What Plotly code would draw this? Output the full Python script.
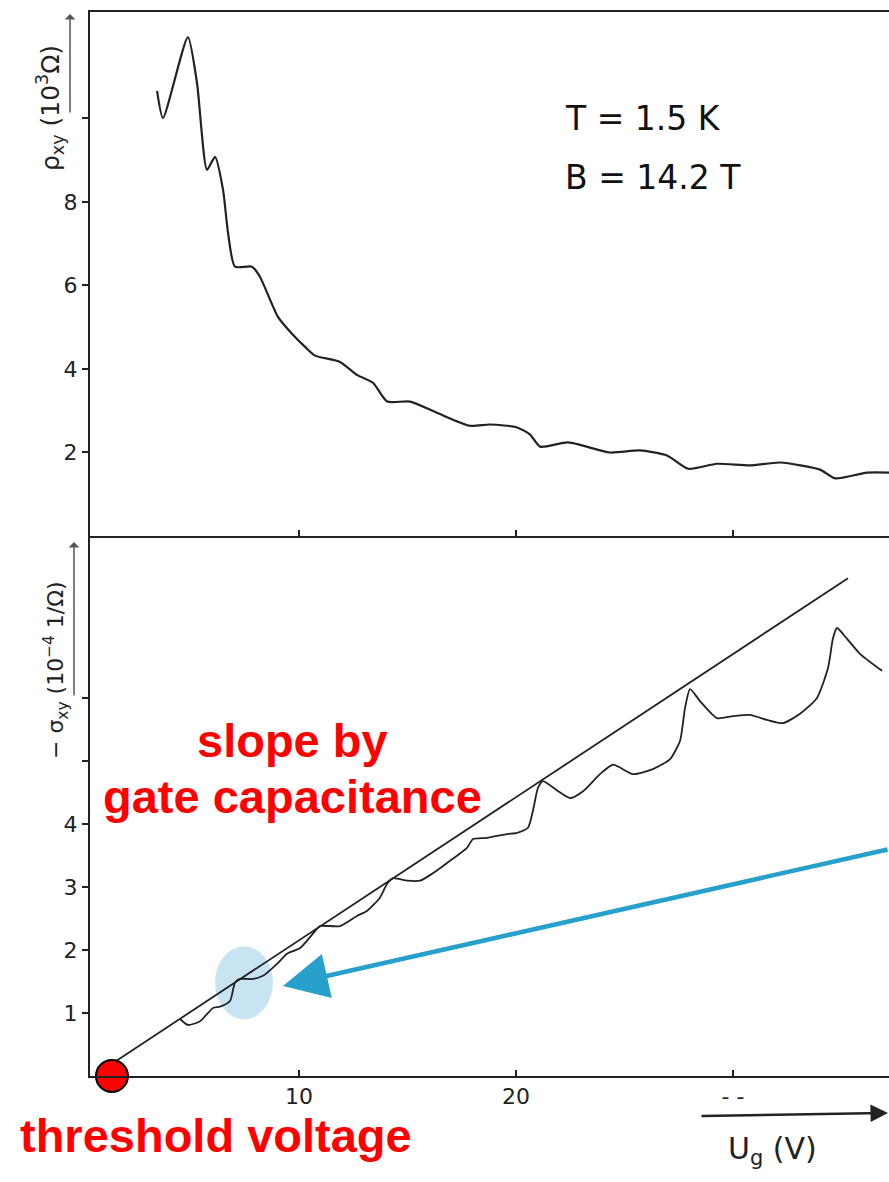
import plotly.graph_objects as go

# ---------------- data ----------------
# Top panel: Hall resistivity rho_xy (10^3 Ohm) vs gate voltage U_g (V)
rho_ug = [3.46, 3.73, 4.88, 5.30, 5.76, 6.13, 6.50, 6.73, 7.05, 7.83, 8.20, 9.03, 9.72,
          10.28, 10.74, 11.89, 12.67, 13.41, 14.06, 15.12, 16.36, 17.88, 18.80, 20.05,
          20.65, 21.11, 22.40, 24.33, 25.71, 26.96, 27.93, 29.26, 30.78, 32.17, 34.01,
          34.70, 36.17, 37.19]
rho_xy = [10.66, 10.01, 11.95, 10.85, 8.77, 9.08, 8.29, 7.26, 6.45, 6.45, 6.21, 5.25, 4.82,
          4.53, 4.32, 4.17, 3.86, 3.67, 3.22, 3.22, 2.95, 2.64, 2.67, 2.60,
          2.43, 2.14, 2.24, 2.00, 2.05, 1.93, 1.61, 1.73, 1.69, 1.76, 1.59,
          1.38, 1.52, 1.52]

# Bottom panel: -sigma_xy (10^-4 1/Ohm) vs U_g (V)
sig_ug = [4.52, 4.88, 5.44, 6.04, 6.36, 6.82, 7.05, 7.28, 7.88, 8.34, 8.99, 9.45, 10.05,
          10.74, 10.97, 11.89, 12.67, 13.13, 13.73, 14.06, 14.33, 14.98, 15.58, 16.18,
          16.82, 17.74, 18.02, 18.66, 19.59, 20.05, 20.55, 20.78, 21.01, 21.24, 21.94,
          22.49, 23.09, 23.87, 24.47, 25.39, 26.31, 27.10, 27.56, 27.79, 28.02, 28.48,
          29.26, 30.00, 30.78, 31.57, 32.30, 33.09, 33.87, 34.38, 34.61, 34.79, 35.25,
          35.85, 36.87]
sig_xy = [0.905, 0.81, 0.87, 1.08, 1.10, 1.19, 1.48, 1.54, 1.54, 1.59, 1.78, 1.94, 2.03,
          2.30, 2.38, 2.38, 2.54, 2.62, 2.83, 3.05, 3.14, 3.10, 3.10, 3.22,
          3.38, 3.62, 3.76, 3.78, 3.84, 3.86, 3.94, 4.21, 4.57, 4.68, 4.52,
          4.41, 4.52, 4.79, 4.94, 4.79, 4.87, 5.03, 5.32, 5.84, 6.14, 5.95,
          5.68, 5.71, 5.73, 5.65, 5.60, 5.75, 6.00, 6.48, 6.95, 7.11, 6.94,
          6.70, 6.43]

# straight line (slope set by gate capacitance)
cap_ug = [1.40, 35.30]
cap_sig = [0.20, 7.90]

# threshold voltage point
thr_ug = [1.38]
thr_sig = [0.0]

x_ticks = [10, 20, 30]
x_ticktext = ["10", "20", "- -"]
top_ticks = [2, 4, 6, 8, 10]
top_ticktext = ["2", "4", "6", "8", ""]
bot_ticks = [1, 2, 3, 4, 5, 6]
bot_ticktext = ["1", "2", "3", "4", "", ""]

# ---------------- layout geometry ----------------
W, H = 889, 1182
L, R, T, B = 90, 0, 12, 106
PW, PH = W - L - R, H - T - B
SPLIT = 536  # pixel row of shared axis line


def px(xp):
    return (xp - L) / PW


def py(yp):
    return (H - B - yp) / PH


ink = "#222222"
hand = "DejaVu Sans"

fig = go.Figure()
fig.add_trace(go.Scatter(x=rho_ug, y=rho_xy, mode="lines", line=dict(color=ink, width=2.2, shape="spline", smoothing=0.6),
                         xaxis="x", yaxis="y", showlegend=False, hoverinfo="skip"))
fig.add_trace(go.Scatter(x=cap_ug, y=cap_sig, mode="lines", line=dict(color=ink, width=1.8),
                         xaxis="x2", yaxis="y2", showlegend=False, hoverinfo="skip"))
fig.add_trace(go.Scatter(x=sig_ug, y=sig_xy, mode="lines", line=dict(color=ink, width=1.8, shape="spline", smoothing=0.6),
                         xaxis="x2", yaxis="y2", showlegend=False, hoverinfo="skip"))
fig.add_trace(go.Scatter(x=thr_ug, y=thr_sig, mode="markers", cliponaxis=False,
                         marker=dict(size=32, color="#ff0000", line=dict(color="black", width=2)),
                         xaxis="x2", yaxis="y2", showlegend=False, hoverinfo="skip"))

x_range = [(L - 82) / 21.7, (W - 82) / 21.7]
split_frac = py(SPLIT)

axis_common = dict(showgrid=False, zeroline=False, linecolor=ink, linewidth=2,
                   tickcolor=ink, tickfont=dict(family=hand, size=22, color=ink))

fig.update_layout(
    width=W, height=H,
    margin=dict(l=L, r=R, t=T, b=B),
    paper_bgcolor="white", plot_bgcolor="white",
    xaxis=dict(domain=[0, 1], anchor="y", range=x_range, showline=True, mirror=True,
               ticks="inside", ticklen=6, tickwidth=2, tickvals=x_ticks, showticklabels=False,
               **axis_common),
    yaxis=dict(domain=[split_frac, 1], anchor="x", range=[0, 12.55], showline=True,
               ticks="outside", ticklen=6, tickwidth=2, tickvals=top_ticks, ticktext=top_ticktext,
               **axis_common),
    xaxis2=dict(domain=[0, 1], anchor="y2", range=x_range, matches="x", showline=True,
                ticks="inside", ticklen=6, tickwidth=2, tickvals=x_ticks, ticktext=x_ticktext,
                **axis_common),
    yaxis2=dict(domain=[0, split_frac], anchor="x2", range=[0, 8.57], showline=True,
                ticks="outside", ticklen=6, tickwidth=2, tickvals=bot_ticks, ticktext=bot_ticktext,
                **axis_common),
)

# light blue highlight blob
fig.add_shape(type="circle", xref="x2", yref="y2", x0=6.13, x1=8.80, y0=0.90, y1=2.06,
              fillcolor="rgba(190,222,240,0.85)", line=dict(width=0), layer="below")


def note(xp, yp, text, font, **kw):
    d = dict(x=px(xp), y=py(yp), xref="paper", yref="paper", text=text, showarrow=False,
             xanchor="center", yanchor="middle", font=font)
    d.update(kw)
    return d


ann = []
# blue arrow pointing to the first plateau
ann.append(dict(x=9.26, y=1.43, xref="x2", yref="y2", ax=37.19, ay=3.60, axref="x2", ayref="y2",
                showarrow=True, arrowhead=2, arrowsize=2.0, arrowwidth=4.5, arrowcolor="#28a0cc", text=""))
# axis titles
ann.append(note(50, 108, "ρ<sub>xy</sub> (10<sup>3</sup>Ω)", dict(family=hand, size=25, color=ink), textangle=-90))
ann.append(note(56, 670, "− σ<sub>xy</sub> (10<sup>−4</sup> 1/Ω)", dict(family=hand, size=22, color=ink), textangle=-90))
# little direction arrows beside axis titles
ann.append(dict(x=px(70), y=py(14), xref="paper", yref="paper", ax=0, ay=100, showarrow=True,
                arrowhead=1, arrowsize=1.2, arrowwidth=1.5, arrowcolor="#555", text=""))
ann.append(dict(x=px(74), y=py(542), xref="paper", yref="paper", ax=0, ay=155, showarrow=True,
                arrowhead=1, arrowsize=1.2, arrowwidth=1.5, arrowcolor="#555", text=""))
# x axis title with arrow
ann.append(dict(x=px(889), y=py(1113), xref="paper", yref="paper", ax=-189, ay=3, showarrow=True,
                arrowhead=2, arrowsize=1.4, arrowwidth=2.5, arrowcolor=ink, text=""))
ann.append(note(772, 1150, "U<sub>g</sub> (V)", dict(family=hand, size=30, color=ink)))
# conditions
ann.append(note(563, 118, "T = 1.5 K", dict(family=hand, size=33, color="#111"), xanchor="left"))
ann.append(note(563, 177, "B = 14.2 T", dict(family=hand, size=33, color="#111"), xanchor="left"))
# red annotations
red = dict(family="Liberation Sans", size=47, color="#ff0000")
ann.append(note(292, 740, "<b>slope by</b>", red))
ann.append(note(292, 796, "<b>gate capacitance</b>", red))
ann.append(note(216, 1135, "<b>threshold voltage</b>", red))
fig.update_layout(annotations=ann)

fig.write_html("out.html")
